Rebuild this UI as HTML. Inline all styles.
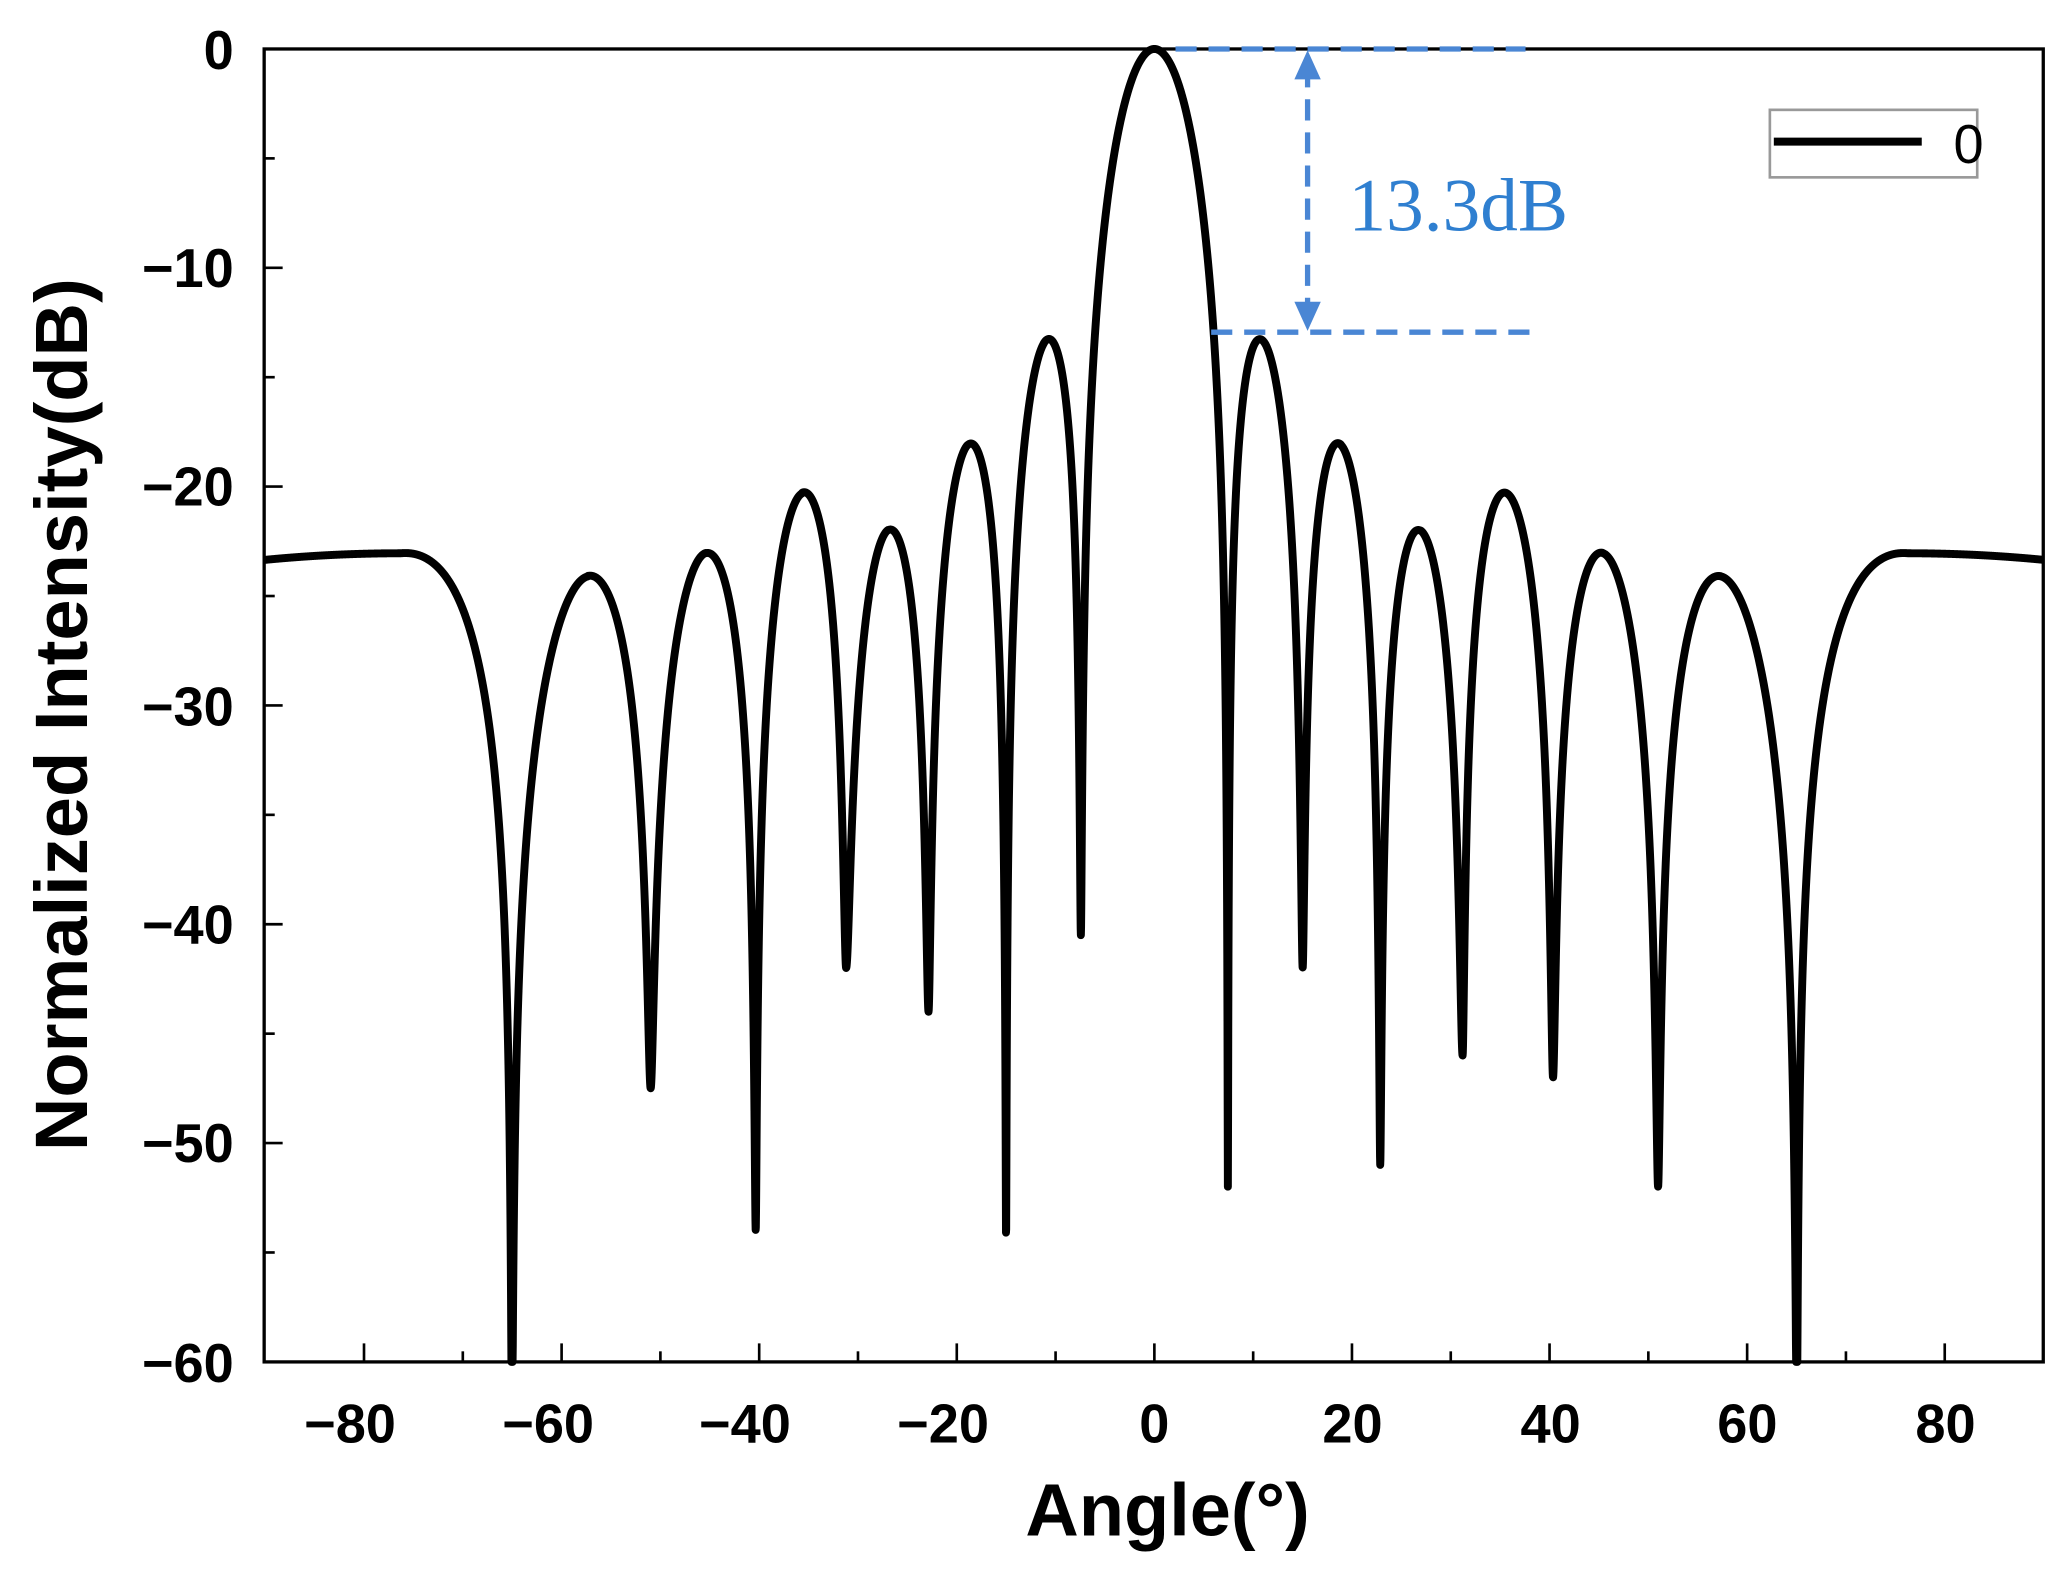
<!DOCTYPE html>
<html><head><meta charset="utf-8"><style>
html,body{margin:0;padding:0;background:#fff;}
svg{display:block;}
</style></head><body>
<svg id="s" width="2071" height="1575" viewBox="0 0 1568 1190" preserveAspectRatio="none" xmlns="http://www.w3.org/2000/svg" font-family="Liberation Sans, Arial, sans-serif">
<rect width="1568" height="1190" fill="#fff"/>
<g id="ticks" stroke="#000" stroke-width="2"></g>
<path id="curve" fill="none" stroke="#000" stroke-width="6" stroke-linejoin="round"/>
<rect x="200" y="37" width="1347" height="992" fill="none" stroke="#000" stroke-width="2.5"/>
<g font-size="41" font-weight="bold" fill="#000" text-anchor="end">
<text x="177" y="52">0</text>
<text x="177" y="217">−10</text>
<text x="177" y="382">−20</text>
<text x="177" y="548">−30</text>
<text x="177" y="713">−40</text>
<text x="177" y="878">−50</text>
<text x="177" y="1044">−60</text>
</g>
<g font-size="41" font-weight="bold" fill="#000" text-anchor="middle">
<text x="265" y="1090">−80</text>
<text x="415" y="1090">−60</text>
<text x="564" y="1090">−40</text>
<text x="714" y="1090">−20</text>
<text x="874" y="1090">0</text>
<text x="1024" y="1090">20</text>
<text x="1174" y="1090">40</text>
<text x="1323" y="1090">60</text>
<text x="1473" y="1090">80</text>
</g>
<text x="884" y="1160" font-size="56" font-weight="bold" text-anchor="middle">Angle(°)</text>
<text transform="translate(66,540) rotate(-90)" font-size="56" font-weight="bold" text-anchor="middle">Normalized Intensity(dB)</text>
<rect x="1340" y="83" width="157" height="51" fill="#fff" stroke="#999" stroke-width="2"/>
<line x1="1343" y1="107" x2="1455" y2="107" stroke="#000" stroke-width="6"/>
<text x="1479" y="123" font-size="41">0</text>
<g stroke="#4a86d4" stroke-width="4" stroke-dasharray="16,9" fill="none">
<line x1="890" y1="37" x2="1155" y2="37"/>
<line x1="917" y1="251" x2="1158" y2="251"/>
<line x1="990" y1="50" x2="990" y2="238"/>
</g>
<polygon points="990,38 980,60 1000,60" fill="#4a86d4"/>
<polygon points="990,250 980,228 1000,228" fill="#4a86d4"/>
<text x="1021" y="174" style="font-family:'Liberation Serif',serif" font-size="57" fill="#2f7fd0">13.3dB</text>
</svg>
<script>
(function(){
var X=function(a){return 874+a*7.48;}, Y=function(d){return 37-d*16.533;};
var g=document.getElementById('ticks'),t='';
for(var a=-80;a<=80;a+=10){var L=(a%20==0)?14:8;t+='<line x1="'+X(a)+'" y1="1029" x2="'+X(a)+'" y2="'+(1029-L)+'"/>';}
for(var d=0;d>=-60;d-=5){var L=(d%10==0)?14:8;t+='<line x1="200" y1="'+Y(d)+'" x2="'+(200+L)+'" y2="'+Y(d)+'"/>';}
g.innerHTML=t;
var off=[0,0,-0.2,-1.2,2.7,1.7,2.1,4.4,4.4];
var dL=[-40.5,-54.5,-44,-42,-54,-47.5,-64,-64];
var dR=[-52,-42,-51,-46,-47,-52,-64,-64];
function f(a){
 var u=Math.sin(Math.abs(a)*Math.PI/180)/0.1295;
 var v=(u<1e-6)?1:Math.sin(Math.PI*u)/(Math.PI*u);
 var k=Math.floor(u);
 var db=20*Math.log10(Math.abs(v)+1e-12)+(off[Math.min(k,8)]||0);
 var n=Math.round(u); var depth=(a<0?dL:dR); var dp=depth[Math.max(0,Math.min(n-1,7))];
 if(n>=1){var lin=Math.pow(10,db/10)+Math.pow(10,dp/10);db=10*Math.log10(lin);}
 return db;
}
var P=f(76.3);
var p='';
for(var a=-90;a<=90.0001;a+=0.02){
 var aa=Math.abs(a),db;
 if(aa>76.3){db=P-0.3*Math.pow((aa-76.3)/13.7,2);} else db=f(a);
 if(db<-60)db=-60;
 p+=(p?'L':'M')+X(a).toFixed(2)+','+Y(db).toFixed(2);
}
document.getElementById('curve').setAttribute('d',p);
})();
</script>
</body></html>
